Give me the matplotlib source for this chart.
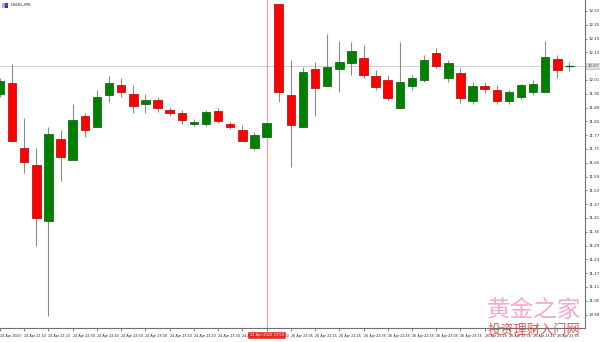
import matplotlib
matplotlib.use("Agg")
import matplotlib.pyplot as plt
from matplotlib.patches import Rectangle
from matplotlib.transforms import blended_transform_factory

symbol = "USOIL,M5"
opens = [11.949, 11.997, 11.714, 11.640, 11.397, 11.753, 11.662, 11.853, 11.806, 11.945,
         11.988, 11.949, 11.906, 11.923, 11.880, 11.866, 11.819, 11.819, 11.875, 11.819,
         11.793, 11.714, 11.762, 12.340, 11.945, 11.806, 12.058, 11.984, 12.058, 12.084,
         12.106, 12.027, 12.010, 11.888, 11.984, 12.010, 12.127, 12.019, 12.040, 11.919,
         11.984, 11.966, 11.919, 11.936, 11.958, 11.958, 12.101, 12.071]
highs = [12.019, 12.080, 11.845, 11.714, 11.806, 11.793, 11.906, 11.866, 11.966, 12.027,
         12.019, 11.988, 11.949, 11.936, 11.893, 11.880, 11.840, 11.880, 11.888, 11.827,
         11.814, 11.784, 11.823, 12.340, 12.097, 12.067, 12.088, 12.210, 12.180, 12.175,
         12.162, 12.053, 12.032, 12.175, 12.032, 12.119, 12.149, 12.097, 12.062, 12.001,
         11.997, 11.988, 11.966, 11.993, 12.010, 12.180, 12.119, 12.088]
lows = [11.936, 11.745, 11.606, 11.288, 10.984, 11.571, 11.662, 11.762, 11.806, 11.914,
        11.936, 11.866, 11.866, 11.871, 11.853, 11.819, 11.810, 11.810, 11.823, 11.797,
        11.745, 11.706, 11.762, 11.914, 11.632, 11.806, 11.853, 11.984, 11.958, 12.032,
        12.019, 11.966, 11.923, 11.888, 11.966, 12.001, 12.062, 12.001, 11.910, 11.906,
        11.953, 11.906, 11.906, 11.927, 11.945, 11.958, 12.019, 12.049]
closes = [12.006, 11.745, 11.653, 11.410, 11.775, 11.675, 11.836, 11.793, 11.936, 11.997,
          11.958, 11.897, 11.923, 11.888, 11.866, 11.836, 11.827, 11.871, 11.832, 11.806,
          11.745, 11.771, 11.823, 11.958, 11.814, 12.045, 11.975, 12.067, 12.088, 12.136,
          12.032, 11.980, 11.932, 12.001, 12.019, 12.097, 12.071, 12.084, 11.932, 11.984,
          11.971, 11.919, 11.958, 11.988, 11.993, 12.110, 12.053, 12.071]

x_labels = ["24 Apr 2020", "24 Apr 22:10", "24 Apr 22:20", "24 Apr 22:30", "24 Apr 22:40",
            "24 Apr 22:50", "24 Apr 23:00", "24 Apr 23:10", "24 Apr 23:20", "24 Apr 23:30",
            "24 Apr 23:40", "24 Apr 23:50", "26 Apr 22:05", "26 Apr 22:15", "26 Apr 22:25",
            "26 Apr 22:35", "26 Apr 22:45", "26 Apr 22:55", "26 Apr 23:05", "26 Apr 23:15",
            "26 Apr 23:25", "26 Apr 23:35", "26 Apr 23:45", "26 Apr 23:55"]
x_label_bars = [0, 2, 4, 6, 8, 10, 12, 14, 16, 18, 20, 22, 24, 26, 28, 30, 32, 34, 36, 38,
                40, 42, 44, 46]
y_ticks = [12.31, 12.25, 12.19, 12.13, 12.07, 12.01, 11.95, 11.89, 11.83, 11.77, 11.71,
           11.65, 11.59, 11.53, 11.47, 11.41, 11.35, 11.29, 11.23, 11.17, 11.11, 11.05, 10.99]
current_price = 12.071
cross_bar = 22
cross_label = "24 Apr 2020 23:50"
watermark_top = "黄金之家"
watermark_bottom = "投资理财入门网"

W, H = 600, 342
fig = plt.figure(figsize=(W / 100, H / 100), dpi=100)
ax = fig.add_axes([0, 14 / H, 585 / W, 1 - 14 / H])
ax.set_xlim(0.094, 48.28)
ax.set_ylim(10.9316, 12.3578)

for s in ["top", "left"]:
    ax.spines[s].set_visible(False)
for s in ["right", "bottom"]:
    ax.spines[s].set_color("#707070")
    ax.spines[s].set_linewidth(0.8)

# price line and crosshair
ax.axhline(current_price, color="#cfcfcf", lw=0.7, zorder=1)
ax.axvline(cross_bar, color="#dcaaaa", lw=0.9, zorder=1)

for i, (o, h, l, c) in enumerate(zip(opens, highs, lows, closes)):
    up = c >= o
    fc = "#008000" if up else "#ff0000"
    ec = "#005c00" if up else "#b00000"
    ax.vlines(i, l, h, color="#8c8c8c", lw=0.8, zorder=2)
    if abs(c - o) < 1e-9:
        ax.hlines(o, i - 0.35, i + 0.35, color=ec, lw=0.9, zorder=3)
    else:
        ax.add_patch(Rectangle((i - 0.35, min(o, c)), 0.7, abs(c - o),
                               facecolor=fc, edgecolor=ec, lw=0.5, zorder=3))

# axes ticks
ax.yaxis.tick_right()
ax.set_yticks(y_ticks)
ax.set_yticklabels(["" if abs(v - 12.07) < 1e-6 else f"{v:.2f}" for v in y_ticks])
ax.tick_params(axis="y", length=1.5, width=0.6, color="#707070", labelsize=2.8,
               pad=1.2, labelcolor="#222222")
ax.set_xticks(x_label_bars)
ax.set_xticklabels(x_labels, ha="left")
ax.tick_params(axis="x", length=2.5, width=0.6, color="#707070", labelsize=2.45,
               pad=2, labelcolor="#222222")

# current price box
tr = blended_transform_factory(ax.transAxes, ax.transData)
ax.text(1.004, current_price, f"{current_price:.2f}", transform=tr, fontsize=2.8,
        va="center", ha="left", color="#444444", clip_on=False, zorder=10,
        bbox=dict(boxstyle="square,pad=0.3", fc="#dedede", ec="#b0b0b0", lw=0.4))

# crosshair time box
tr2 = blended_transform_factory(ax.transData, ax.transAxes)
ax.text(cross_bar, -0.022, cross_label, transform=tr2, fontsize=2.6, va="center",
        ha="center", color="white", clip_on=False, zorder=10,
        bbox=dict(boxstyle="square,pad=0.35", fc="#e8281e", ec="#e8281e", lw=0.4))

# symbol header
fig.patches.append(Rectangle((2 / W, 1 - 8 / H), 3 / W, 5 / H, transform=fig.transFigure,
                             facecolor="#a8a8ff", edgecolor="none"))
fig.patches.append(Rectangle((5 / W, 1 - 8 / H), 3 / W, 5 / H, transform=fig.transFigure,
                             facecolor="#3030c0", edgecolor="none"))
fig.patches.append(Rectangle((6 / W, 1 - 6 / H), 2 / W, 2 / H, transform=fig.transFigure,
                             facecolor="#e03030", edgecolor="none"))
fig.text(11 / W, 1 - 5.5 / H, symbol, fontsize=3.2, va="center", ha="left", color="#222222")

# watermark
fig.text(534 / W, 1 - 310 / H, watermark_top, fontsize=17, color="#f2a2c4", ha="center",
         va="center", family=["Noto Sans CJK SC", "DejaVu Sans"], alpha=0.9)
fig.text(534 / W, 1 - 330 / H, watermark_bottom, fontsize=9.5, color="#e23a3a",
         ha="center", va="center", family=["Noto Sans CJK SC", "DejaVu Sans"], alpha=0.85)

fig.savefig("out.png", dpi=100)
